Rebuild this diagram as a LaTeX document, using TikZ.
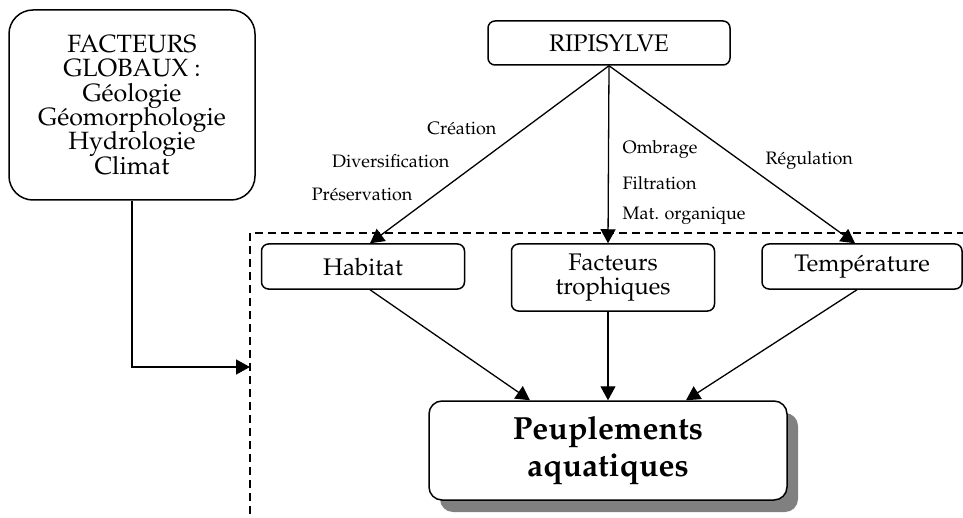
\documentclass[tikz,border=0pt]{standalone}
\usepackage[T1]{fontenc}
\usepackage{mathpazo}
\usetikzlibrary{arrows.meta, positioning, shadows}
\def\px{0.5pt}
\def\boxFont{\fontsize{12}{11.7}\selectfont\lineskiplimit=-10pt\relax}
\def\globFont{\fontsize{12.5}{12.2}\selectfont\lineskiplimit=-10pt\relax}
\def\peupFont{\fontsize{16}{18.5}\selectfont\bfseries\lineskiplimit=-10pt\relax}
\def\labFont{\fontsize{9}{10}\selectfont}
\begin{document}
\begin{tikzpicture}[
    x=\px, y=-\px,
    line width=0.65pt,
    >={Triangle[length=7pt,width=7.5pt]},
    box/.style={draw, fill=white, line width=0.75pt, rounded corners=3.5pt, align=center,
        inner sep=0pt, font=\boxFont},
    lab/.style={inner sep=0pt, font=\labFont}
]
\useasboundingbox (0,0) rectangle (963,518);

% zone en pointilles
\draw[line width=0.75pt, dash pattern=on 4pt off 2.5pt]
    (250,540) -- (250,233) -- (990,233);
\coordinate (hit) at (250,367);

\node[box, rounded corners=12pt, minimum width=123pt, minimum height=95pt, font=\globFont]
    (glob) at (132,105) {FACTEURS\\GLOBAUX :\\G\'eologie\\G\'eomorphologie\\Hydrologie\\Climat};
\node[box, minimum width=121pt, minimum height=22pt] (ripi) at (609,43) {RIPISYLVE};
\node[box, minimum width=101.5pt, minimum height=22.5pt] (hab) at (363,266.5) {Habitat};
\node[box, minimum width=101.5pt, minimum height=33.5pt] (troph) at (613,277.5) {Facteurs\\trophiques};
\node[box, minimum width=100pt, minimum height=22.5pt] (temp) at (862,266.5) {Temp\'erature};
\node[box, rounded corners=6.5pt, minimum width=179pt, minimum height=49.5pt, font=\peupFont,
    drop shadow={shadow xshift=5.5pt, shadow yshift=-6pt, fill=black!50, opacity=1}]
    (peup) at (608,450.5) {Peuplements\\aquatiques};

% labels
\node[lab, anchor=east] (creat) at (497,128) {Cr\'eation};
\node[lab, anchor=east] (divers) at (450,161) {Diversification};
\node[lab, anchor=east] (preserv) at (413,194) {Pr\'eservation};
\node[lab, anchor=west] (ombr) at (622,150) {Ombrage};
\node[lab, anchor=west] (filtr) at (622,183) {Filtration};
\node[lab, anchor=west] (matorg) at (622,216) {Mat. organique};
\node[lab, anchor=west] (regul) at (765,161) {R\'egulation};

% fleches
\draw[->] (ripi.south) -- ([xshift=3.5pt]hab.north);
\draw[->] (ripi.south) -- ([xshift=-2.5pt]troph.north);
\draw[->] (ripi.south) -- ([xshift=-3.5pt]temp.north);
\draw[->] ([xshift=3.5pt]hab.south) -- ([xshift=-39pt]peup.north);
\draw[->] ([xshift=-2.5pt]troph.south) -- (peup.north);
\draw[->] ([xshift=-2.5pt]temp.south) -- ([xshift=39pt]peup.north);
\draw[->] (glob.south) |- (hit);
\end{tikzpicture}
\end{document}
